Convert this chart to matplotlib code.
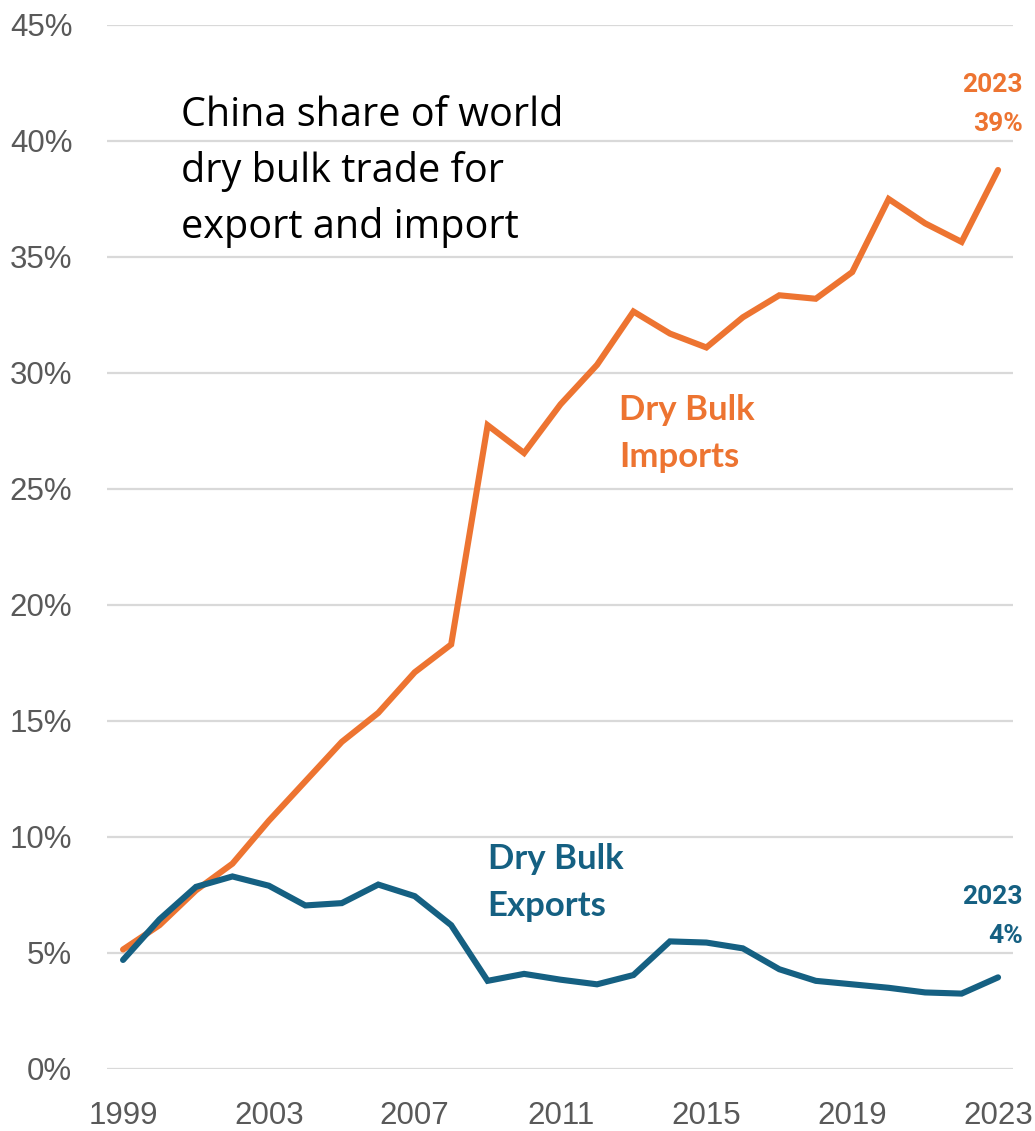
import numpy as np
import matplotlib
matplotlib.use("Agg")
import matplotlib.pyplot as plt
from matplotlib.ticker import FuncFormatter

years = list(range(1999, 2024))
imports = [5.15, 6.2, 7.7, 8.85, 10.7, 12.4, 14.1, 15.35, 17.1, 18.3,
           27.75, 26.55, 28.65, 30.35, 32.65, 31.7, 31.1, 32.4, 33.35, 33.2,
           34.35, 37.5, 36.45, 35.65, 38.75]
exports = [4.7, 6.45, 7.85, 8.3, 7.9, 7.05, 7.15, 7.95, 7.45, 6.2,
           3.8, 4.1, 3.85, 3.65, 4.05, 5.5, 5.45, 5.2, 4.3, 3.8,
           3.65, 3.5, 3.3, 3.25, 3.95]
xticks = [1999, 2003, 2007, 2011, 2015, 2019, 2023]

ORANGE = "#ED7431"
BLUE = "#156082"
GREY = "#595959"

fig = plt.figure(figsize=(10.35, 11.31), dpi=100)
ax = fig.add_axes([107 / 1035, 1 - 1069 / 1131, (1013 - 107) / 1035, (1069 - 25) / 1131])

ax.plot(years, imports, color=ORANGE, lw=4.4, solid_capstyle="round", solid_joinstyle="miter", zorder=3)
ax.plot(years, exports, color=BLUE, lw=4.4, solid_capstyle="round", solid_joinstyle="miter", zorder=3)

ax.set_xlim(1998.56, 2023.41)
ax.set_ylim(0, 45)
ax.set_yticks(np.arange(0, 46, 5))
ax.yaxis.set_major_formatter(FuncFormatter(lambda v, p: f"{v:.0f}%"))
ax.set_xticks(xticks)
ax.grid(axis="y", color="#D9D9D9", lw=1.6, zorder=0)
for s in ax.spines.values():
    s.set_visible(False)
ax.tick_params(length=0)
ax.tick_params(axis="y", pad=25, labelsize=22.5, labelcolor=GREY)
ax.tick_params(axis="x", pad=23, labelsize=22.5, labelcolor=GREY)
for t in ax.get_xticklabels() + ax.get_yticklabels():
    t.set_family(["Liberation Sans", "DejaVu Sans"])

# title block
fig.text(181 / 1035, 1 - 95 / 1131, "China share of world\ndry bulk trade for\nexport and import",
         fontsize=28.5, family=["Open Sans", "DejaVu Sans"],
         color="black", va="top", ha="left", linespacing=1.5)

# series labels
ax.text(2012.6, 29.1, "Dry Bulk\nImports", color=ORANGE, fontsize=25, fontweight="bold",
        family=["Lato", "DejaVu Sans"], va="top", ha="left", linespacing=1.58)
ax.text(2009.0, 9.75, "Dry Bulk\nExports", color=BLUE, fontsize=25, fontweight="bold",
        family=["Lato", "DejaVu Sans"], va="top", ha="left", linespacing=1.6)

# end-point labels
fig.text(1023 / 1035, 1 - 73 / 1131, "2023\n39%", color=ORANGE,
         fontsize=19, fontweight="bold", family=["Roboto", "DejaVu Sans"],
         va="top", ha="right", multialignment="right", linespacing=1.78)
fig.text(1023 / 1035, 1 - 885 / 1131, "2023\n4%", color=BLUE,
         fontsize=19, fontweight="bold", family=["Roboto", "DejaVu Sans"],
         va="top", ha="right", multialignment="right", linespacing=1.78)

fig.savefig("out.png", dpi=100, facecolor="white")
